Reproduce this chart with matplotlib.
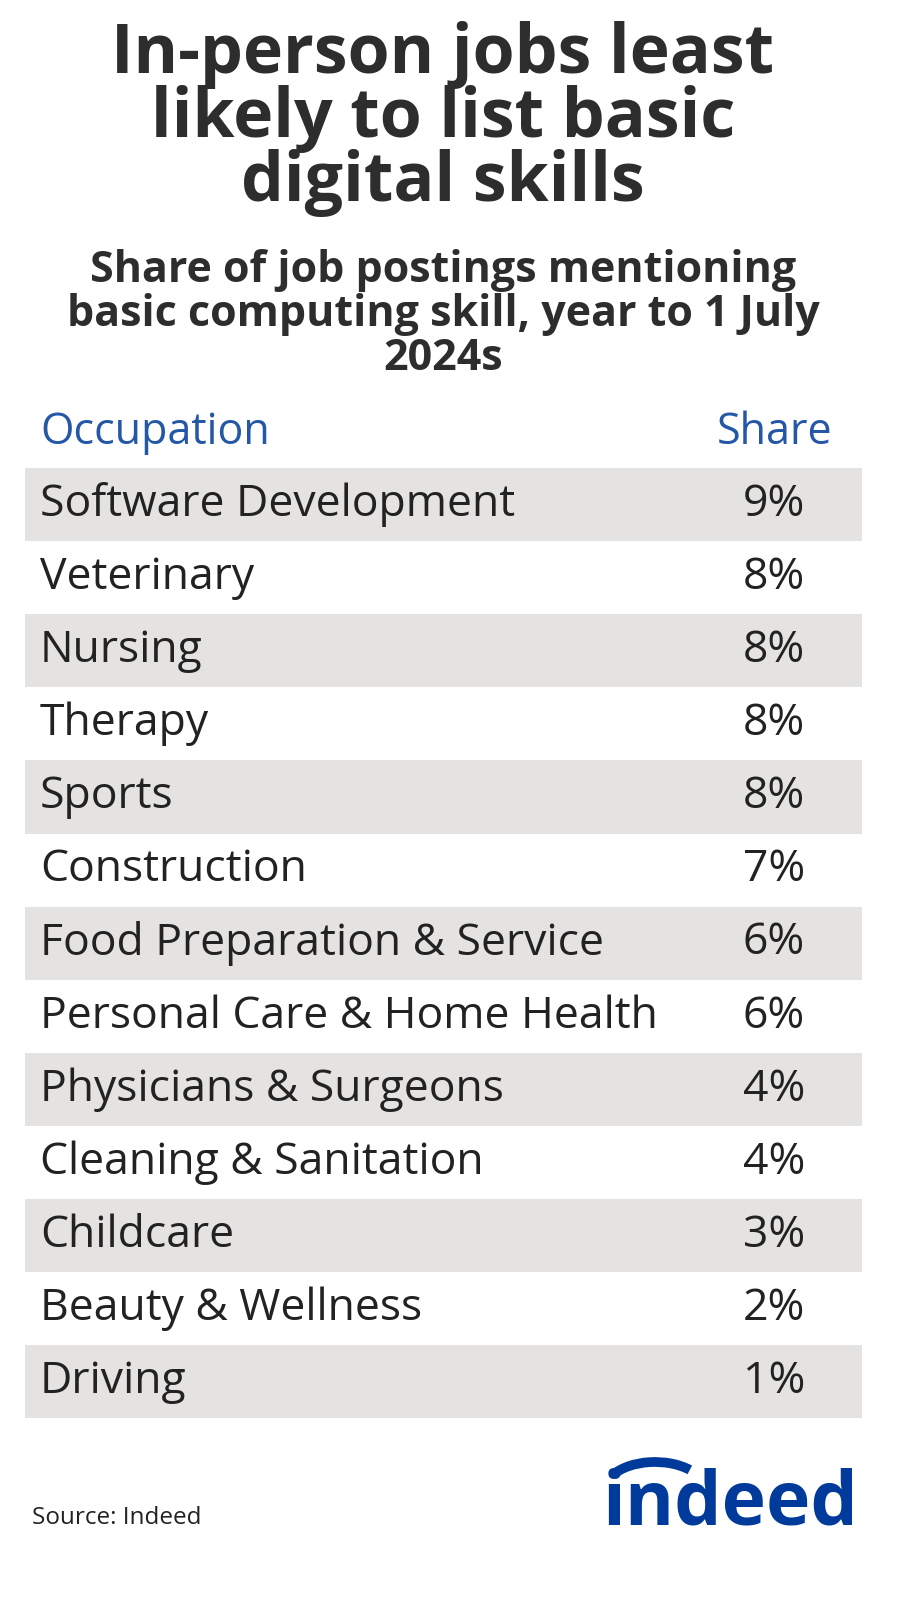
import matplotlib
matplotlib.use("Agg")
import matplotlib.pyplot as plt
from matplotlib.patches import Rectangle, Arc

occupations = ["Software Development", "Veterinary", "Nursing", "Therapy", "Sports",
               "Construction", "Food Preparation & Service", "Personal Care & Home Health",
               "Physicians & Surgeons", "Cleaning & Sanitation", "Childcare",
               "Beauty & Wellness", "Driving"]
shares = [9, 8, 8, 8, 8, 7, 6, 6, 4, 4, 3, 2, 1]

FONT = "Open Sans"
fig = plt.figure(figsize=(9.05, 16), dpi=100)
ax = fig.add_axes([0, 0, 1, 1])
ax.set_xlim(0, 905)
ax.set_ylim(1600, 0)
ax.axis("off")

dark = "#2d2d2d"
blue = "#2557a7"
for i, line in enumerate(["In-person jobs least", "likely to list basic", "digital skills"]):
    ax.text(443, 55 + i * 64, line, ha="center", va="center", fontsize=49,
            fontweight="bold", family=FONT, color=dark)
for i, line in enumerate(["Share of job postings mentioning",
                          "basic computing skill, year to 1 July", "2024s"]):
    ax.text(443, 270 + i * 44, line, ha="center", va="center", fontsize=31,
            fontweight="bold", family=FONT, color=dark)

ax.text(40, 433, "Occupation", ha="left", va="center", fontsize=31, family=FONT, color=blue)
ax.text(832, 433, "Share", ha="right", va="center", fontsize=31, family=FONT, color=blue)

top, h = 468, 73.1
for i, (occ, s) in enumerate(zip(occupations, shares)):
    y0 = top + i * h
    if i % 2 == 0:
        ax.add_patch(Rectangle((25, y0), 837, h, color="#e4e3e1", lw=0))
    ax.text(40, y0 + h / 2, occ, ha="left", va="center", fontsize=32, family=FONT, color="#222222")
    ax.text(805, y0 + h / 2, f"{s}%", ha="right", va="center", fontsize=32, family=FONT, color="#222222")

ax.text(32, 1518, "Source: Indeed", ha="left", va="center", fontsize=17.5, family=FONT, color="#222222")
ax.text(858, 1505, "indeed", ha="right", va="center", fontsize=54, fontweight="bold",
        family=FONT, color="#003a9b")
ax.add_patch(Arc((655, 1490), 100, 56, theta1=200, theta2=330, lw=7, color="#003a9b"))

fig.savefig("out.png", dpi=100)
